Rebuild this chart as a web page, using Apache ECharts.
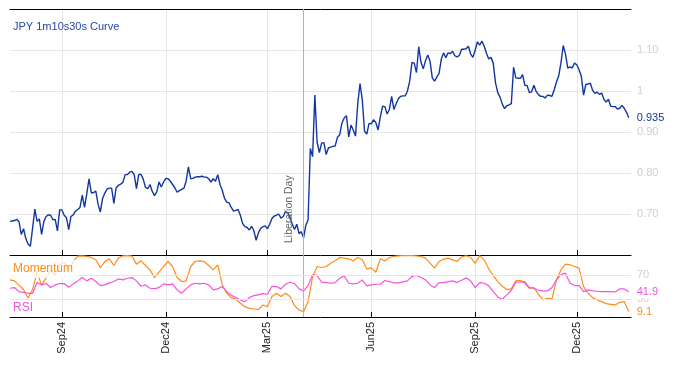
<!DOCTYPE html>
<html><head><meta charset="utf-8">
<script src="https://cdn.jsdelivr.net/npm/echarts@6/dist/echarts.min.js"></script>
<style>html,body{margin:0;padding:0;background:#fff}#c{width:674px;height:366px}</style>
</head><body><div id="c"></div>
<script>
// ---- data ----
const startDate = '2024-07-17';
const stepDays = 2;
const categoryCount = 276;
const monthNames = ['Jan','Feb','Mar','Apr','May','Jun','Jul','Aug','Sep','Oct','Nov','Dec'];
const titleText = 'JPY 1m10s30s Curve';
const eventDate = '2025-04-03';
const eventName = 'Liberation Day';
const rsiLevels = [30, 70];

// JPY 1m10s30s curve (every 2 days)
const curve = [
0.682,0.683,0.684,0.687,0.681,0.650,0.664,0.640,0.627,0.621,
0.665,0.712,0.682,0.688,0.650,0.682,0.694,0.698,0.697,0.686,
0.687,0.659,0.710,0.710,0.697,0.691,0.662,0.694,0.698,0.707,
0.711,0.716,0.746,0.716,0.749,0.786,0.752,0.752,0.756,0.724,
0.705,0.738,0.751,0.761,0.763,0.763,0.726,0.764,0.770,0.773,
0.777,0.796,0.796,0.802,0.804,0.796,0.762,0.796,0.797,0.785,
0.765,0.762,0.772,0.755,0.745,0.754,0.778,0.766,0.778,0.787,
0.786,0.780,0.772,0.764,0.753,0.757,0.760,0.763,0.780,0.815,
0.786,0.787,0.790,0.791,0.791,0.792,0.790,0.790,0.786,0.778,
0.786,0.780,0.796,0.772,0.758,0.738,0.729,0.727,0.716,0.707,
0.709,0.711,0.697,0.677,0.669,0.667,0.661,0.670,0.659,0.636,
0.654,0.665,0.669,0.671,0.664,0.675,0.689,0.695,0.697,0.700,
0.690,0.694,0.706,0.703,0.692,0.675,0.662,0.675,0.652,0.657,
0.642,0.672,0.686,0.860,0.840,0.990,0.875,0.850,0.873,0.874,
0.845,0.861,0.863,0.865,0.866,0.887,0.893,0.922,0.934,0.940,
0.888,0.917,0.905,0.890,0.970,1.018,0.979,0.902,0.895,0.921,
0.920,0.930,0.923,0.905,0.937,0.963,0.962,0.944,0.955,0.987,
0.955,0.969,0.981,0.987,0.988,0.988,1.000,1.024,1.070,1.068,
1.045,1.108,1.070,1.054,1.074,1.088,1.073,1.032,1.024,1.034,
1.043,1.078,1.093,1.081,1.093,1.091,1.097,1.086,1.083,1.087,
1.102,1.102,1.103,1.109,1.090,1.082,1.100,1.120,1.112,1.122,
1.109,1.092,1.078,1.082,1.068,1.020,0.996,0.985,0.968,0.957,
0.964,0.966,0.969,1.058,1.032,1.031,1.031,1.040,1.014,1.013,
0.996,0.998,1.014,0.999,0.991,0.987,0.987,0.983,0.990,0.989,
0.987,1.003,1.022,1.037,1.070,1.111,1.090,1.056,1.059,1.056,
1.068,1.064,1.052,1.036,0.990,1.016,1.017,1.019,1.002,0.994,
0.997,0.992,0.995,0.980,0.973,0.980,0.963,0.962,0.962,0.956,
0.958,0.965,0.958,0.948,0.935
];

// Momentum and RSI (every 4 days)
const momentum = [
61.7,60,53,45.6,31.7,45.6,74,53,65.5,78,
70,86.7,92,75.6,92,101,101.7,100.6,99,95,
82,92,96.7,85.6,97.8,101.7,102,101,87.8,93.3,
85.6,78.3,65.5,74.4,83.9,92.2,83.9,65.5,58.9,60,
83.9,92.2,93.3,92.2,85.6,78.3,86.7,53.3,39.4,32.2,
29.4,22.8,17.2,14.4,13.3,12.2,20,17,33.9,39.4,
33.9,39.4,33.9,18.9,11.7,8.9,25.6,67,83.9,82.2,
83.9,89.4,93.3,98.9,97.8,96.7,93.3,98.9,95,80,
81.7,74.4,96.7,93.3,98.9,100.6,101.7,102,102,102,
101.7,100.6,97.8,89.4,81.1,92.2,96.1,97.8,95,92.2,
100,101.7,98.9,89,102,95,80,68.9,58.9,51.1,
45.6,46.7,60,61.1,56.1,47.8,48.9,37.8,28.3,31.1,
30,61.7,78.3,87.8,86.7,83.9,81.1,50.6,39.4,32.2,
28.3,25.6,22.2,21.1,20,24.4,25.6,9.1
];
const rsi = [
47.8,48.9,42.2,41,39.4,39.4,57.2,53.3,55.6,48.9,
53.3,55.6,55.6,49.4,55,60,65.5,60,64.4,58.9,
52.2,53.3,56.7,58.9,63.3,61.7,64.4,65.5,60,51.1,
53.3,47.8,47.2,48.9,55,53.3,55,45,39.4,46.7,
53.3,56.1,55,56.1,53.3,45,46.7,50.6,42.2,36.1,
32.2,28.3,25.6,32.2,35.6,36.7,38.9,37.8,51.1,50.6,
46.7,54.4,57.8,55.6,46.7,43.3,52.2,70,69,57.8,
57.2,56.1,57.2,64.4,68.3,56.1,55,56.1,61.7,51.7,
53.3,54.4,54.4,60.6,58.9,56.7,56.7,58.3,60,67.2,
68.9,65.5,61.7,53.3,48.9,57.2,57.2,58.9,60,57.2,
61.1,65,60,48.9,57.2,56.1,51.7,42.2,33.3,29.4,
36.7,44.4,57.8,58.3,58.9,48.9,47.8,44.4,43.3,43.3,
48.9,61.7,70,72.8,56.1,52.2,52.2,42.2,45,43.3,
42.8,42.2,42.2,42.2,41.7,46.7,46.7,41.9
];
const lowerStep = 2; // lower series sampled every 2nd category

// ---- build ----
const dates = [];
const t0 = Date.parse(startDate + 'T00:00:00Z');
for (let k = 0; k < categoryCount; k++) {
  dates.push(new Date(t0 + k * stepDays * 86400000).toISOString().slice(0, 10));
}
const isQuarter = (idx, val) => {
  const d = new Date(val + 'T00:00:00Z');
  return d.getUTCDate() <= 2 && d.getUTCMonth() % 3 === 2;
};
const fmtDate = (val) => {
  const d = new Date(val + 'T00:00:00Z');
  return monthNames[d.getUTCMonth()] + String(d.getUTCFullYear()).slice(2);
};
const lastVal = (p) => Array.isArray(p.value) ? p.value[p.value.length - 1] : p.value;

const FONT = '"Liberation Sans", Arial, sans-serif';
const BLUE = '#1136a2', ORANGE = '#ff8c1a', PINK = '#f454dc';
const GRIDC = '#e6e6e6', LABELC = '#cfcfcf';

const chart = echarts.init(document.getElementById('c'));
chart.setOption({
  animation: false,
  textStyle: { fontFamily: FONT },
  title: [
    { text: titleText, left: 8, top: 19, padding: [2, 5], textStyle: { color: '#2346a8', fontSize: 11, fontWeight: 'normal', fontFamily: FONT } },
    { text: 'Momentum', left: 8, top: 260, padding: [3, 5], backgroundColor: 'rgba(255,255,255,0.75)', textStyle: { color: ORANGE, fontSize: 12, fontWeight: 'normal', fontFamily: FONT } },
    { text: 'RSI', left: 8, top: 299, padding: [3, 5], textStyle: { color: PINK, fontSize: 12, fontWeight: 'normal', fontFamily: FONT } }
  ],
  grid: [
    { left: 10, right: 43, top: 9, height: 246 },
    { left: 10, right: 43, top: 255, height: 62 }
  ],
  xAxis: [
    { type: 'category', gridIndex: 0, data: dates, boundaryGap: false, position: 'bottom',
      axisLine: { lineStyle: { color: '#000', width: 1 } },
      axisTick: { inside: true, length: 5, interval: isQuarter, lineStyle: { color: '#000' } },
      axisLabel: { show: false },
      splitLine: { show: true, interval: isQuarter, lineStyle: { color: GRIDC } } },
    { type: 'category', gridIndex: 0, data: dates, boundaryGap: false, position: 'top',
      axisLine: { lineStyle: { color: '#000', width: 1 } },
      axisTick: { show: false }, axisLabel: { show: false }, splitLine: { show: false } },
    { type: 'category', gridIndex: 1, data: dates, boundaryGap: false, position: 'bottom',
      axisLine: { lineStyle: { color: '#000', width: 1 } },
      axisTick: { inside: true, length: 5, interval: isQuarter, lineStyle: { color: '#000' } },
      axisLabel: { interval: isQuarter, rotate: 90, margin: 5, color: '#222', fontSize: 11, fontFamily: FONT, formatter: fmtDate },
      splitLine: { show: true, interval: isQuarter, lineStyle: { color: GRIDC } } }
  ],
  yAxis: [
    { type: 'value', gridIndex: 0, position: 'right', min: 0.6, max: 1.2, interval: 0.1,
      axisLine: { show: false }, axisTick: { show: false },
      axisLabel: { color: LABELC, fontSize: 11, margin: 6, showMinLabel: false, showMaxLabel: false, fontFamily: FONT,
        formatter: v => Math.abs(v - 1) < 1e-9 ? '1' : v.toFixed(2) },
      splitLine: { lineStyle: { color: GRIDC } } },
    { type: 'value', gridIndex: 1, position: 'right', min: 0, max: 103, interval: 10,
      axisLine: { show: false }, axisTick: { show: false }, splitLine: { show: false },
      axisLabel: { color: LABELC, fontSize: 11, margin: 6, fontFamily: FONT,
        formatter: v => rsiLevels.indexOf(v) >= 0 ? String(v) : '' } }
  ],
  series: [
    { name: 'curve', type: 'line', xAxisIndex: 0, yAxisIndex: 0, data: curve,
      showSymbol: false, color: BLUE, lineStyle: { color: BLUE, width: 1.4 }, z: 3,
      endLabel: { show: true, formatter: p => Number(lastVal(p)).toFixed(3), color: BLUE, fontSize: 11, fontFamily: FONT,
        backgroundColor: '#fff', padding: [1, 2], distance: 6 },
      markLine: { silent: true, symbol: ['none', 'none'], animation: false,
        lineStyle: { color: '#b4b4b4', type: 'solid', width: 1 },
        label: { show: true, formatter: eventName, position: 'insideStartTop', color: '#666', fontSize: 10.5, fontFamily: FONT, distance: [12, 9] },
        data: [{ xAxis: eventDate }] } },
    { name: 'Momentum', type: 'line', xAxisIndex: 2, yAxisIndex: 1,
      data: momentum.map((v, i) => [i * lowerStep, v]),
      showSymbol: false, color: ORANGE, lineStyle: { color: ORANGE, width: 1.2 }, z: 3,
      endLabel: { show: true, formatter: p => Number(lastVal(p)).toFixed(1), color: ORANGE, fontSize: 11, fontFamily: FONT,
        backgroundColor: '#fff', padding: [1, 2], distance: 6 },
      markLine: { silent: true, symbol: ['none', 'none'], animation: false,
        lineStyle: { color: '#b4b4b4', type: 'solid', width: 1 }, label: { show: false },
        data: [{ xAxis: eventDate }] } },
    { name: 'RSI', type: 'line', xAxisIndex: 2, yAxisIndex: 1,
      data: rsi.map((v, i) => [i * lowerStep, v]),
      showSymbol: false, color: PINK, lineStyle: { color: PINK, width: 1.2 }, z: 4,
      endLabel: { show: true, formatter: p => Number(lastVal(p)).toFixed(1), color: PINK, fontSize: 11, fontFamily: FONT,
        backgroundColor: '#fff', padding: [1, 2], distance: 6 },
      markLine: { silent: true, symbol: ['none', 'none'], animation: false,
        lineStyle: { color: GRIDC, type: 'solid', width: 1 }, label: { show: false },
        data: rsiLevels.map(v => ({ yAxis: v })) } }
  ]
});
</script>
</body></html>
